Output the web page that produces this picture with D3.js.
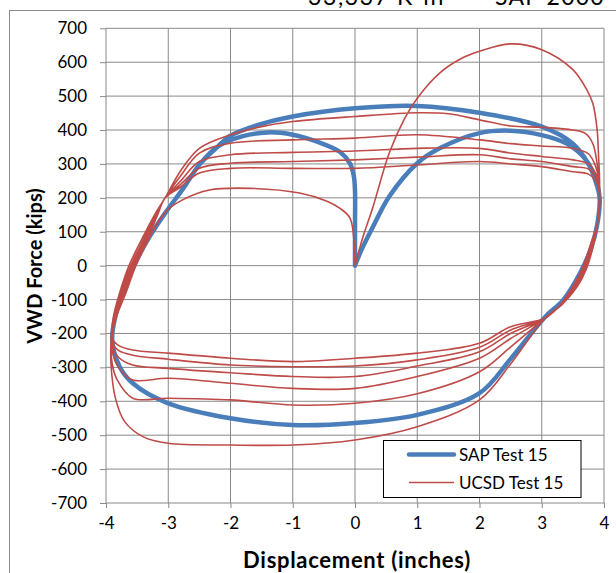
<!DOCTYPE html>
<html><head><meta charset="utf-8">
<script src="https://cdn.jsdelivr.net/npm/d3@7"></script>
<style>body{margin:0;background:#fff}svg{display:block}text{font-family:Lato,"Open Sans",sans-serif}</style>
</head><body>
<svg id="c" width="616" height="573"></svg>
<script>
// ---- data ----
const xTicks = [-4,-3,-2,-1,0,1,2,3,4];
const yTicks = [700,600,500,400,300,200,100,0,-100,-200,-300,-400,-500,-600,-700];
const seriesNames = ["SAP Test 15","UCSD Test 15"];

// SAP Test 15 (displacement in, force kips)
const sapInnerRight = [[0,0],[0.1,45],[0.29,115],[0.55,204],[1.0,302],[1.36,346],[2.0,391],[2.5,398],[3.0,385],[3.4,360],[3.71,312],[3.87,253],[3.93,200]];
const sapDescent = [[3.89,120],[3.79,50],[3.62,-20],[3.35,-100],[3.05,-152]];
const sapBottom = [[2.5,-275],[2.0,-376],[1.0,-440],[0,-464],[-1,-470],[-2,-450],[-3,-406],[-3.57,-347],[-3.78,-298],[-3.9,-220]];
const sapAscent = [[-3.85,-150],[-3.72,-70],[-3.55,0],[-3.32,80],[-3.05,155],[-2.75,230],[-2.5,298],[-2.2,352]];
const sapOuterTop = [[-2.0,383],[-1.5,418],[-1,440],[0,464],[1,471],[2,451],[3,410],[3.5,360],[3.75,300],[3.88,240],[3.93,200]];
const sapInnerLeft = [[-1.8,382],[-1.4,393],[-1.0,386],[-0.6,365],[-0.24,335],[-0.08,301],[-0.02,265],[0,220],[0,120],[0,0]];

// UCSD Test 15
const ucsdUp1 = [[0,0],[0.12,80],[0.29,174],[0.55,332],[0.8,435],[1.0,494],[1.36,568],[1.7,610],[2.0,632],[2.5,654],[3.0,637],[3.5,578],[3.72,520],[3.82,479],[3.89,400],[3.91,332],[3.93,233]];
const ucsdDown1 = [[3.9,130],[3.83,60],[3.72,-8],[3.57,-62],[3.33,-114],[3.05,-155]];
const ucsdLow1 = [[2.5,-290],[2.0,-396],[1,-475],[0,-514],[-1,-529],[-2,-529],[-3,-524],[-3.4,-505],[-3.7,-460],[-3.85,-390],[-3.92,-290],[-3.92,-225]];
const ucsdRise1 = [[-3.88,-150],[-3.78,-80],[-3.63,0],[-3.43,76],[-3.22,150],[-3.05,200]];
const ucsdUp2 = [[-2.8,280],[-2.5,346],[-2,386],[-1.5,410],[-1,425],[0,440],[1,451],[1.5,448],[2,430],[2.5,412],[3,408],[3.5,400],[3.7,390],[3.82,360],[3.89,300],[3.93,220]];
const ucsdDown2 = [[3.9,130],[3.82,60],[3.71,-9],[3.56,-64],[3.32,-115],[3.05,-155]];
const ucsdLow2 = [[2.5,-240],[2,-313],[1,-378],[0,-406],[-1,-411],[-2,-396],[-3,-391],[-3.57,-391],[-3.82,-337],[-3.9,-290],[-3.92,-230]];
const ucsdRise2 = [[-3.87,-150],[-3.76,-80],[-3.6,0],[-3.4,76],[-3.2,150],[-3.05,200]];
const ucsdUp3 = [[-2.8,265],[-2.5,332],[-2,361],[-1,371],[0,376],[1,386],[2,371],[2.5,360],[3,353],[3.5,346],[3.75,330],[3.87,290],[3.93,220]];
const ucsdDown3 = [[3.9,130],[3.81,60],[3.7,-10],[3.54,-65],[3.31,-116],[3.05,-155]];
const ucsdLow3 = [[2.5,-215],[2,-273],[1,-327],[0,-362],[-1,-362],[-2,-347],[-3,-332],[-3.57,-337],[-3.8,-300],[-3.9,-250]];
const ucsdRise3 = [[-3.86,-150],[-3.74,-80],[-3.58,0],[-3.38,76],[-3.19,150],[-3.05,200]];
const ucsdUp4 = [[-2.8,250],[-2.5,307],[-2,327],[-1,334],[0,338],[1,346],[2,346],[2.5,332],[3,322],[3.5,312],[3.75,300],[3.87,270],[3.93,215]];
const ucsdDown4 = [[3.9,130],[3.8,60],[3.68,-11],[3.52,-66],[3.3,-117],[3.05,-155]];
const ucsdLow4 = [[2.5,-200],[2,-254],[1,-296],[0,-327],[-1,-327],[-2,-316],[-3,-303],[-3.57,-293],[-3.8,-270],[-3.9,-235]];
const ucsdRise4 = [[-3.85,-150],[-3.72,-80],[-3.56,0],[-3.36,76],[-3.18,150],[-3.05,200]];
const ucsdUp5 = [[-2.8,240],[-2.5,287],[-2,302],[-1,307],[0,312],[1,320],[2,327],[2.5,315],[3,307],[3.5,292],[3.75,285],[3.87,260],[3.93,210]];
const ucsdDown5 = [[3.9,130],[3.79,60],[3.66,-12],[3.5,-67],[3.29,-118],[3.05,-155]];
const ucsdLow5 = [[2.5,-190],[2,-241],[1,-278],[0,-296],[-1,-298],[-2,-293],[-3,-276],[-3.57,-264],[-3.8,-250],[-3.9,-225]];
const ucsdRise5 = [[-3.84,-150],[-3.7,-80],[-3.54,0],[-3.34,76],[-3.17,150],[-3.05,200]];
const ucsdUp6 = [[-2.8,232],[-2.5,273],[-2,287],[-1,287],[0,287],[1,297],[2,307],[2.5,300],[3,292],[3.5,277],[3.75,270],[3.87,250],[3.93,205]];
const ucsdDown6 = [[3.9,130],[3.78,60],[3.64,-13],[3.48,-68],[3.28,-119],[3.05,-155]];
const ucsdLow6 = [[2.5,-180],[2,-229],[1,-258],[0,-273],[-1,-283],[-2,-273],[-3,-258],[-3.57,-249],[-3.8,-235],[-3.9,-215]];
const ucsdRise6 = [[-3.83,-150],[-3.68,-80],[-3.52,0],[-3.32,76],[-3.04,160]];
const ucsdFinal = [[-2.77,194],[-2.34,223],[-1.69,228],[-0.89,214],[-0.45,190],[-0.24,169],[-0.08,140],[-0.01,60],[0,0]];

const sapData = [].concat(sapInnerRight, sapDescent, sapBottom, sapAscent, sapOuterTop, sapDescent, sapBottom, sapAscent, sapInnerLeft);
const ucsdData = [].concat(ucsdUp1, ucsdDown1, ucsdLow1, ucsdRise1, ucsdUp2, ucsdDown2, ucsdLow2, ucsdRise2,
  ucsdUp3, ucsdDown3, ucsdLow3, ucsdRise3, ucsdUp4, ucsdDown4, ucsdLow4, ucsdRise4,
  ucsdUp5, ucsdDown5, ucsdLow5, ucsdRise5, ucsdUp6, ucsdDown6, ucsdLow6, ucsdRise6, ucsdFinal);

// ---- drawing ----
const svg = d3.select("#c");
const L = 106, R = 604, T = 28.3, B = 503;
const x = d3.scaleLinear().domain([-4,4]).range([L,R]);
const y = d3.scaleLinear().domain([-700,700]).range([B,T]);
const GRID = "#898989";
const fmt = d => d < 0 ? "-" + Math.abs(d) : String(d);

// outer frame & clipped title (reference shows only the bottom of this title line)
svg.append("rect").attr("x",9.5).attr("y",10.5).attr("width",640).attr("height",600)
  .attr("fill","none").attr("stroke","#8c8c8c").attr("stroke-width",1);
svg.append("text").attr("x",308).attr("y",5).attr("font-size",23).attr("letter-spacing",1.6).attr("fill","#000").text("33,337 K-in");
svg.append("text").attr("x",495).attr("y",5).attr("font-size",23).attr("letter-spacing",1.2).attr("fill","#000").text("SAP 2000");

// gridlines
const g = svg.append("g");
g.selectAll(".vg").data(xTicks.slice(1)).join("line")
  .attr("x1",d=>x(d)).attr("x2",d=>x(d)).attr("y1",T).attr("y2",B)
  .attr("stroke",GRID).attr("stroke-width",1);
g.selectAll(".hg").data(yTicks.slice(0,-1)).join("line")
  .attr("x1",L).attr("x2",R).attr("y1",d=>y(d)).attr("y2",d=>y(d))
  .attr("stroke",GRID).attr("stroke-width",1);

// axes
const xAxis = d3.axisBottom(x).tickValues(xTicks).tickSize(5).tickPadding(9).tickFormat(fmt);
const yAxis = d3.axisLeft(y).tickValues(yTicks).tickSize(6).tickPadding(13).tickFormat(fmt);
const gx = svg.append("g").attr("transform",`translate(0,${B})`).call(xAxis);
const gy = svg.append("g").attr("transform",`translate(${L},0)`).call(yAxis);
[gx,gy].forEach(a=>{
  a.select(".domain").attr("stroke",GRID).attr("stroke-width",1);
  a.selectAll(".tick line").attr("stroke",GRID).attr("stroke-width",1);
  a.selectAll(".tick text").attr("font-family","Lato").attr("font-size",17).attr("fill","#000");
});
gx.select(".domain").attr("d",`M${L},0H${R}`);
gy.select(".domain").attr("d",`M0,${T}V${B}`);

// axis titles
svg.append("text").attr("x",(L+R)/2+2).attr("y",568).attr("text-anchor","middle")
  .attr("font-size",22).attr("letter-spacing",0.7).attr("font-weight","bold").text("Displacement (inches)");
svg.append("text").attr("transform","translate(42,266) rotate(-90)").attr("text-anchor","middle")
  .attr("font-size",20).attr("font-weight","bold").text("VWD Force (kips)");

// series
svg.append("defs").append("clipPath").attr("id","pc").append("rect")
  .attr("x",L).attr("y",T).attr("width",R-L).attr("height",B-T);
const line = d3.line().x(d=>x(d[0])).y(d=>y(d[1])).curve(d3.curveCatmullRom.alpha(0.5));
const plot = svg.append("g").attr("clip-path","url(#pc)");
plot.append("path").datum(sapData).attr("d",line).attr("fill","none")
  .attr("stroke","#4a7ebb").attr("stroke-width",4.5).attr("stroke-linejoin","round").attr("stroke-linecap","round");
plot.append("path").datum(ucsdData).attr("d",line).attr("fill","none")
  .attr("stroke","#be4b48").attr("stroke-width",1.6).attr("stroke-linejoin","round");

// legend
const lg = svg.append("g");
lg.append("rect").attr("x",383.5).attr("y",440.5).attr("width",197.5).attr("height",57)
  .attr("fill","#fff").attr("stroke","#000").attr("stroke-width",1);
const items = [{n:seriesNames[0],c:"#4a7ebb",w:4.5,yy:454.5},{n:seriesNames[1],c:"#be4b48",w:1.6,yy:482.5}];
items.forEach(it=>{
  lg.append("line").attr("x1",409).attr("x2",454).attr("y1",it.yy).attr("y2",it.yy)
    .attr("stroke",it.c).attr("stroke-width",it.w).attr("stroke-linecap",it.w>3?"round":"butt");
  lg.append("text").attr("x",459).attr("y",it.yy+6).attr("font-size",17).attr("fill","#000").text(it.n);
});
</script>
</body></html>
